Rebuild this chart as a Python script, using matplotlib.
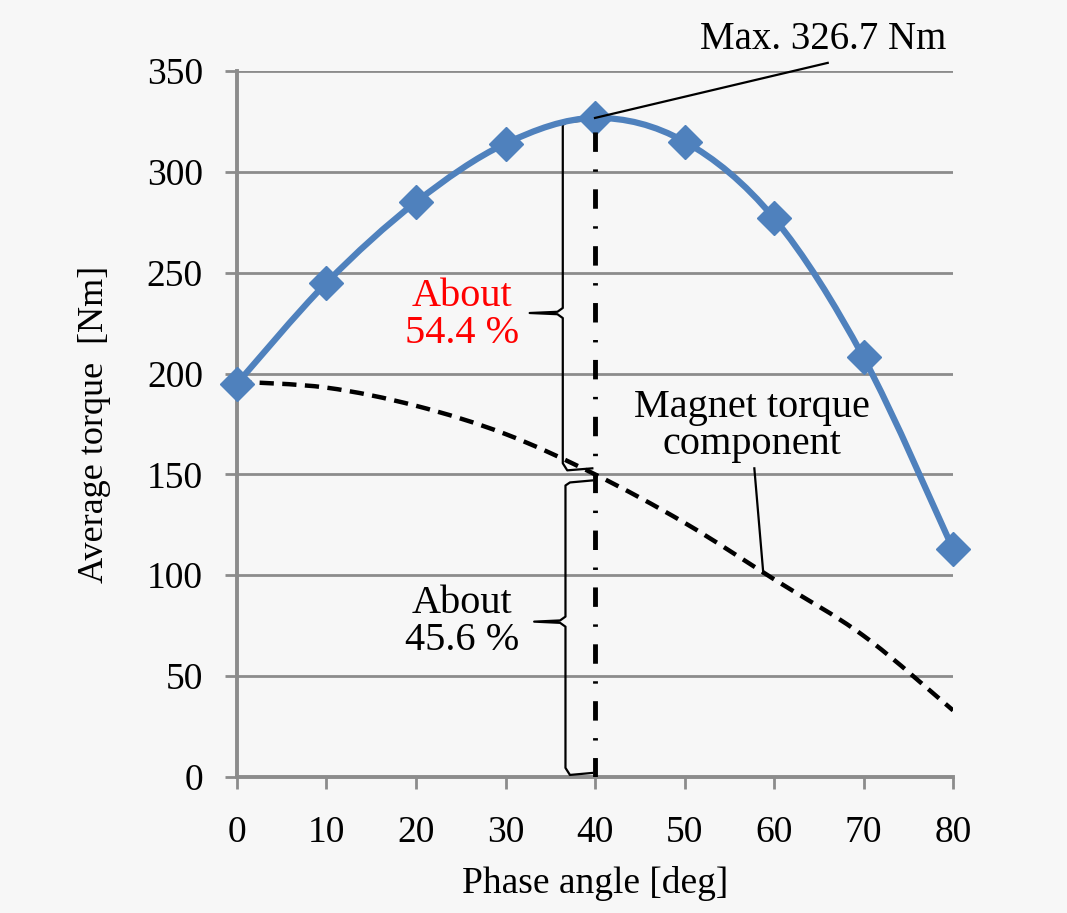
import matplotlib
matplotlib.use('Agg')

import matplotlib.pyplot as plt
import numpy as np
from matplotlib.path import Path
from matplotlib.patches import PathPatch

# Phase angle sweep and torque results
phase_deg = [0, 10, 20, 30, 40, 50, 60, 70, 80]
avg_torque = [195, 245, 285, 314, 326.7, 315, 277, 208, 113]
magnet_torque = [196, 193, 184, 170, 150, 126, 98, 70, 33]

peak_angle = 40
peak_torque = 326.7
peak_magnet = 150

BLUE = '#4f81bd'
GRID = '#8c8c8c'
BG = '#f7f7f7'


def smooth_path(xs, ys, tension=1 / 6):
    """Bezier path through the points (Excel-style smoothed line)."""
    pts = np.column_stack([xs, ys]).astype(float)
    verts = [pts[0]]
    codes = [Path.MOVETO]
    n = len(pts)
    for i in range(n - 1):
        p0 = pts[i - 1] if i > 0 else pts[i]
        p1 = pts[i]
        p2 = pts[i + 1]
        p3 = pts[i + 2] if i + 2 < n else pts[i + 1]
        c1 = p1 + (p2 - p0) * tension
        c2 = p2 - (p3 - p1) * tension
        verts += [c1, c2, p2]
        codes += [Path.CURVE4] * 3
    return Path(verts, codes)


def brace(ax, x_line, y_top, y_bot, y_tip, x_tip, x_end):
    """Curly brace opening to the right, pointing left at y_tip."""
    r = 2.5
    xs = [x_end, x_line + 0.5, x_line, x_line, x_line - 0.6, x_tip,
          x_line - 0.6, x_line, x_line, x_line + 0.5, x_end]
    ys = [y_top, y_top - 1, y_top - r, y_tip + r, y_tip + 0.6, y_tip,
          y_tip - 0.6, y_tip - r, y_bot + r, y_bot - 1, y_bot]
    ax.plot(xs, ys, color='black', lw=1.6, solid_joinstyle='round',
            clip_on=False, zorder=4)


plt.rcParams['font.family'] = ['Liberation Serif', 'DejaVu Serif']

fig = plt.figure(figsize=(10.67, 9.13), dpi=100, facecolor=BG)
ax = fig.add_axes([0.2221, 0.1490, 0.6711, 0.7733])
ax.set_facecolor(BG)

ax.set_xlim(0, 80)
ax.set_ylim(0, 350)
ax.set_xticks(phase_deg)
ax.set_yticks(np.arange(0, 351, 50))

ax.yaxis.grid(True, color=GRID, lw=2)
ax.set_axisbelow(True)
for side in ['top', 'right']:
    ax.spines[side].set_visible(False)
for side in ['left', 'bottom']:
    ax.spines[side].set_color(GRID)
    ax.spines[side].set_linewidth(2.8)
ax.tick_params(axis='both', direction='out', length=8.5, width=2, color=GRID,
               labelsize=27)
ax.tick_params(axis='y', pad=16)
ax.tick_params(axis='x', pad=19)

ax.set_xlabel('Phase angle [deg]', fontsize=27, labelpad=12)
ax.set_ylabel('Average torque  [Nm]', fontsize=26, labelpad=26)

# magnet torque component (dashed, smoothed)
ax.add_patch(PathPatch(smooth_path(phase_deg, magnet_torque), fill=False,
                       edgecolor='black', lw=3.2, linestyle=(0, (3.2, 1.9)),
                       zorder=3))

# average torque (smoothed line with diamond markers)
ax.add_patch(PathPatch(smooth_path(phase_deg, avg_torque), fill=False,
                       edgecolor=BLUE, lw=4.5, zorder=5, clip_on=False))
ax.plot(phase_deg, avg_torque, linestyle='none', marker='D', ms=17,
        color=BLUE, zorder=6, clip_on=False)

# vertical marker at the maximum
ax.plot([peak_angle, peak_angle], [0, peak_torque], color='black', lw=3.5,
        linestyle=(0, (4, 3.6, 0.5, 3.6)), zorder=7)

# maximum annotation with leader line
ax.plot([peak_angle, 66.0], [peak_torque, 354], color='black', lw=1.6,
        clip_on=False, zorder=8)
ax.text(51.7, 365.5, 'Max. 326.7 Nm', fontsize=28, ha='left', va='center')

# braces splitting torque into reluctance and magnet parts
brace(ax, 36.4, peak_torque - 1, peak_magnet + 3, 230, 32.7, 39.7)
brace(ax, 36.7, peak_magnet - 3, 2, 77, 33.2, 39.7)

ax.text(25.1, 229, 'About\n54.4 %', color='red', fontsize=29,
        ha='center', va='center', linespacing=1.0)
ax.text(25.1, 77, 'About\n45.6 %', color='black', fontsize=29,
        ha='center', va='center', linespacing=1.0)

# magnet torque label with pointer
ax.text(57.5, 174, 'Magnet torque\ncomponent', fontsize=29,
        ha='center', va='center', linespacing=1.0)
ax.plot([57.8, 58.8], [153, 101], color='black', lw=1.6, zorder=4)

fig.savefig('out.png', dpi=100, facecolor=BG)
